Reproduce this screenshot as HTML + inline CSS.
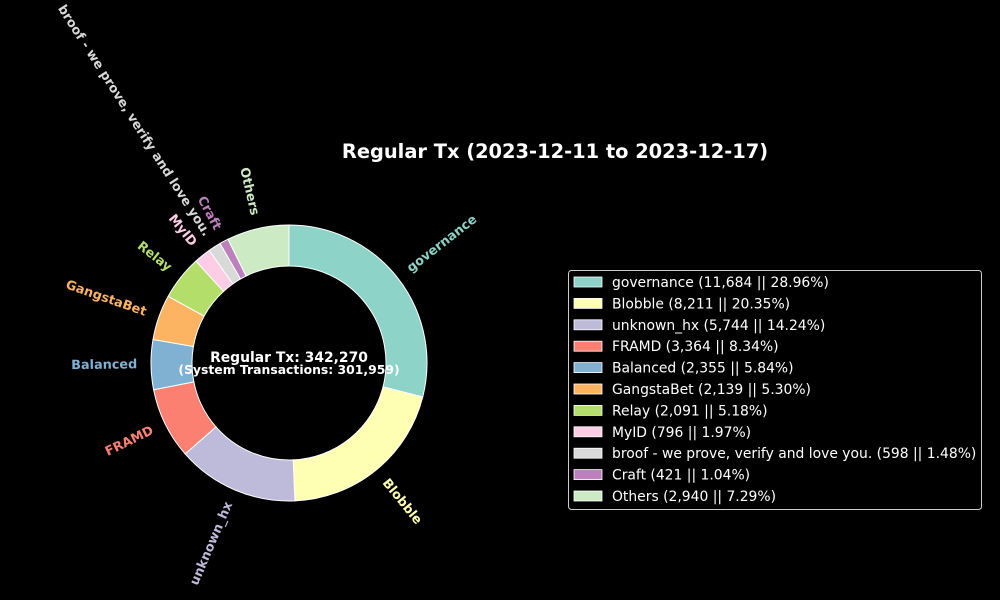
<!DOCTYPE html>
<html><head><meta charset="utf-8"><style>
body{margin:0;background:#000;}
svg{display:block;font-family:"DejaVu Sans","Liberation Sans",sans-serif;}
</style></head><body>
<svg id="chart" width="1000" height="600" viewBox="0 0 1000 600">
<rect width="1000" height="600" fill="#000"/>
<text x="555" y="158" fill="#fff" font-size="19.4" font-weight="bold" text-anchor="middle">Regular Tx (2023-12-11 to 2023-12-17)</text>
<g id="slices"></g>
<g id="labels"></g>
<text x="289" y="362" fill="#fff" font-size="13.9" font-weight="bold" text-anchor="middle">Regular Tx: 342,270</text>
<text x="289" y="374" fill="#fff" font-size="12.4" font-weight="bold" text-anchor="middle">(System Transactions: 301,959)</text>
<g id="legend"></g>
</svg>
<script>
const categories=["governance","Blobble","unknown_hx","FRAMD","Balanced","GangstaBet","Relay","MyID","broof - we prove, verify and love you.","Craft","Others"];
const values=[11684,8211,5744,3364,2355,2139,2091,796,598,421,2940];
const percents=["28.96%","20.35%","14.24%","8.34%","5.84%","5.30%","5.18%","1.97%","1.48%","1.04%","7.29%"];
const colors=["#8dd3c7","#ffffb3","#bebada","#fb8072","#80b1d3","#fdb462","#b3de69","#fccde5","#d9d9d9","#bc80bd","#ccebc5"];
const NS="http://www.w3.org/2000/svg";
const cx=289,cy=363,R=138,r=97;
const total=values.reduce((a,b)=>a+b,0);
const sg=document.getElementById('slices'),lg=document.getElementById('labels'),leg=document.getElementById('legend');
function pt(rad,a){return [cx+rad*Math.cos(a*Math.PI/180),cy-rad*Math.sin(a*Math.PI/180)];}
let ang=90;
values.forEach((v,i)=>{
  const sweep=v/total*360,a0=ang,a1=ang-sweep;ang=a1;
  const p0=pt(R,a0),p1=pt(R,a1),q1=pt(r,a1),q0=pt(r,a0),lf=sweep>180?1:0;
  const p=document.createElementNS(NS,'path');
  p.setAttribute('d',`M${p0}A${R},${R} 0 ${lf} 1 ${p1}L${q1}A${r},${r} 0 ${lf} 0 ${q0}Z`);
  p.setAttribute('fill',colors[i]);p.setAttribute('stroke','#fff');p.setAttribute('stroke-width','1');
  
  
  sg.appendChild(p);
  const mid=(a0+a1)/2,lp=pt(R*1.1,mid);
  const right=Math.cos(mid*Math.PI/180)>=0;
  const rot=right?-mid:-(mid+180);
  const t=document.createElementNS(NS,'text');
  t.setAttribute('x',lp[0]);t.setAttribute('y',lp[1]);
  t.setAttribute('transform',`rotate(${rot} ${lp[0]} ${lp[1]})`);
  t.setAttribute('text-anchor',right?'start':'end');
  t.setAttribute('dominant-baseline','central');
  t.setAttribute('fill',colors[i]);t.setAttribute('font-size','12.8');t.setAttribute('font-weight','bold');
  t.textContent=categories[i];
  
  
  lg.appendChild(t);
});
const box=document.createElementNS(NS,'rect');
box.setAttribute('x',568.5);box.setAttribute('y',270.5);box.setAttribute('width',413);box.setAttribute('height',239);
box.setAttribute('rx',3);box.setAttribute('fill','#000');box.setAttribute('stroke','#ccc');


leg.appendChild(box);
categories.forEach((c,i)=>{
  const y=282+i*21.4;
  const s=document.createElementNS(NS,'rect');
  s.setAttribute('x',574);s.setAttribute('y',y-5);s.setAttribute('width',28);s.setAttribute('height',10);
  s.setAttribute('fill',colors[i]);s.setAttribute('stroke','#fff');s.setAttribute('stroke-width','0.8');
  
  
  leg.appendChild(s);
  const t=document.createElementNS(NS,'text');
  t.setAttribute('x',612);t.setAttribute('y',y+5);t.setAttribute('fill','#fff');t.setAttribute('font-size','13.9');
  t.textContent=`${c} (${values[i].toLocaleString('en-US')} || ${percents[i]})`;
  
  
  leg.appendChild(t);
});
</script>
</body></html>
